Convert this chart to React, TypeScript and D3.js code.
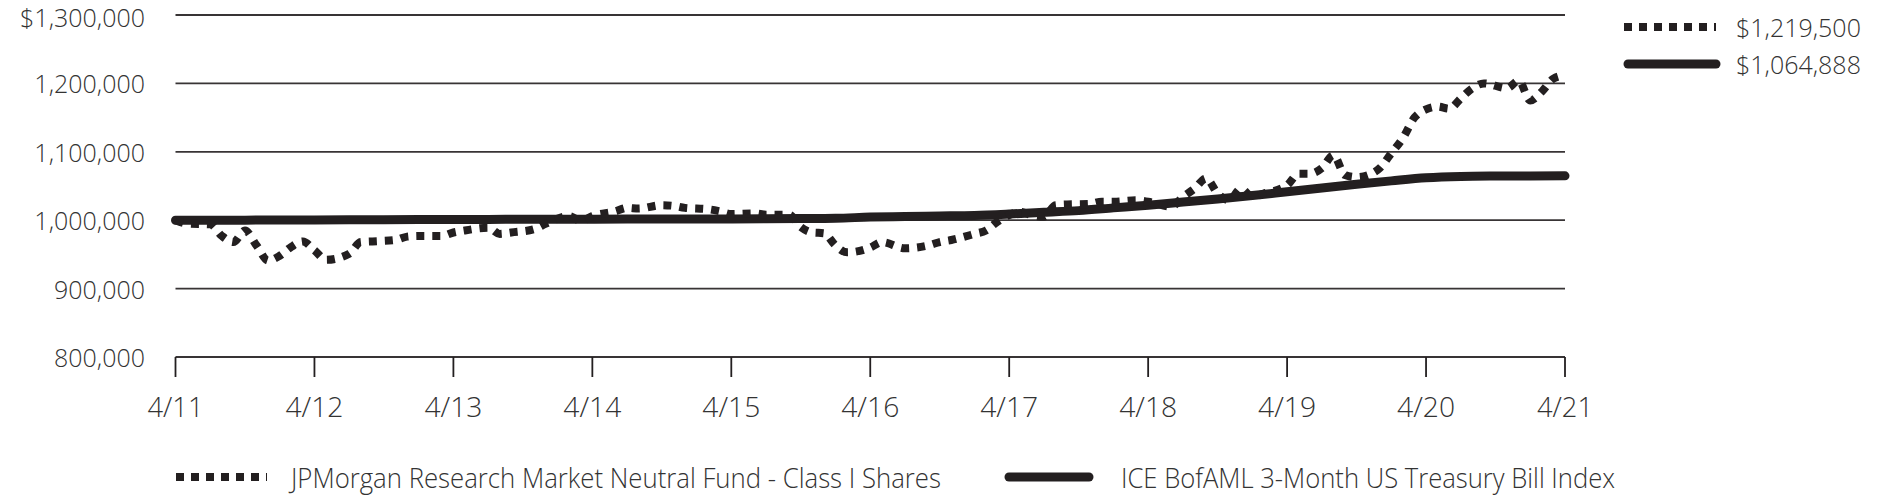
import React from 'react';
import * as d3 from 'd3';

// months counted from 4/11
const tickLabels = ['4/11', '4/12', '4/13', '4/14', '4/15', '4/16', '4/17', '4/18', '4/19', '4/20', '4/21'];
const yTicks = [800000, 900000, 1000000, 1100000, 1200000, 1300000];

const fundMonths = [
  0, 1, 3, 4, 5, 6, 7, 8, 9, 10, 11, 12, 13, 15, 16, 17, 19, 20, 21, 23,
  24, 25, 27, 28, 29, 31, 32, 34, 35, 36, 38, 39, 40, 42, 43, 44, 46, 47, 48, 50,
  51, 53, 54, 55, 56, 57, 58, 60, 61, 63, 65, 66, 67, 69, 70, 71, 73, 74, 75, 76,
  77, 79, 80, 81, 83, 84, 86, 87, 88, 89, 90, 91, 92, 93, 94, 96, 97, 98, 99, 100,
  101, 102, 103, 104, 105, 106, 107, 108, 109, 110, 111, 112, 113, 115, 116, 117, 118, 119, 120,
];
const fundValues = [
  1000000, 995000, 994000, 977000, 968000, 985000, 963000, 941000, 948000, 961000,
  969000, 956000, 942000, 951000, 968000, 969000, 971000, 976000, 977000, 977000,
  982000, 985000, 989000, 980000, 982000, 987000, 995000, 1006000, 999000, 1006000,
  1013000, 1018000, 1017000, 1022000, 1021000, 1018000, 1016000, 1013000, 1009000, 1010000,
  1008000, 1008000, 990000, 982000, 981000, 963000, 953000, 960000, 968000, 959000,
  963000, 968000, 971000, 980000, 985000, 998000, 1012000, 1007000, 1005000, 1022000,
  1023000, 1024000, 1027000, 1027000, 1029000, 1027000, 1020000, 1034000, 1046000, 1061000,
  1039000, 1029000, 1046000, 1034000, 1039000, 1051000, 1068000, 1068000, 1076000, 1095000,
  1066000, 1063000, 1066000, 1076000, 1098000, 1120000, 1150000, 1162000, 1166000, 1163000,
  1178000, 1193000, 1200000, 1193000, 1204000, 1175000, 1188000, 1207000, 1212000,
];

const indexMonths = [
  0, 3, 6, 9, 12, 15, 18, 21, 24, 27, 30, 33, 36, 39, 42, 45, 48, 51, 54, 57,
  60, 63, 66, 69, 72, 75, 78, 81, 84, 87, 90, 93, 96, 99, 102, 105, 108, 111, 114, 117, 120,
];
const indexValues = [
  1000000, 1000000, 1000100, 1000200, 1000300, 1000600, 1000800, 1001000, 1001100, 1001200,
  1001300, 1001400, 1001500, 1001600, 1001700, 1001800, 1001900, 1002100, 1002400, 1002900,
  1004500, 1005500, 1006200, 1007000, 1009000, 1011500, 1014000, 1018000, 1022000, 1026500,
  1031000, 1036000, 1041500, 1047000, 1052500, 1057500, 1062000, 1064000, 1064600, 1064800, 1064888,
];

const seriesNames = ['JPMorgan Research Market Neutral Fund - Class I Shares', 'ICE BofAML 3-Month US Treasury Bill Index'];
const endLabels = ['$1,219,500', '$1,064,888'];

const W = 1880;
const H = 495;
const INK = '#231f20';
const TEXT = '#333333';
const condensed = "'Open Sans', sans-serif";

const x = d3.scaleLinear().domain([0, 120]).range([175.5, 1565]);
const y = d3.scaleLinear().domain([800000, 1300000]).range([357, 15]);

const fundPts: [number, number][] = fundMonths.map((m, i) => [m, fundValues[i]]);
const indexPts: [number, number][] = indexMonths.map((m, i) => [m, indexValues[i]]);

const line = d3
  .line<[number, number]>()
  .x(d => x(d[0]))
  .y(d => y(d[1]))
  .curve(d3.curveMonotoneX);

const fmtY = (v: number, i: number) => (i === yTicks.length - 1 ? '$' : '') + d3.format(',')(v);

export default function App() {
  const xTicks = tickLabels.map((_, i) => i * 12);
  return (
    <svg width={W} height={H} style={{ position: 'absolute', left: 0, top: 0, background: '#fff' }}>
      {/* gridlines */}
      {yTicks.map(v => (
        <line key={v} x1={x(0)} x2={x(120)} y1={y(v)} y2={y(v)} stroke={INK} strokeWidth={1.8} opacity={0.9} />
      ))}
      {/* x ticks */}
      {xTicks.map(m => (
        <line key={m} x1={x(m)} x2={x(m)} y1={y(800000)} y2={y(800000) + 20} stroke={INK} strokeWidth={1.8} />
      ))}
      {xTicks.map((m, i) => (
        <text
          key={'xl' + m}
          x={x(m)}
          y={406}
          textAnchor="middle"
          dominantBaseline="central"
          fontFamily={condensed}
          fontWeight={300}
          fontSize={27}
          fill={TEXT}
          textLength={i === 0 || i === tickLabels.length - 1 ? 56 : 58}
          lengthAdjust="spacingAndGlyphs"
        >
          {tickLabels[i]}
        </text>
      ))}
      {/* y labels */}
      {yTicks.map((v, i) => (
        <text
          key={'yl' + v}
          x={145}
          y={y(v) + (i === yTicks.length - 1 ? 2 : 0)}
          textAnchor="end"
          dominantBaseline="central"
          fontFamily="'Open Sans', sans-serif"
          fontWeight={300}
          fontSize={25}
          fill={TEXT}
        >
          {fmtY(v, i)}
        </text>
      ))}

      {/* series */}
      <path d={line(indexPts) || ''} fill="none" stroke={INK} strokeWidth={9} strokeLinecap="round" strokeLinejoin="round" />
      <path d={line(fundPts) || ''} fill="none" stroke={INK} strokeWidth={8} strokeDasharray="8 8" />

      {/* end value legend */}
      <line x1={1624} x2={1716} y1={27} y2={27} stroke={INK} strokeWidth={8} strokeDasharray="8 7" />
      <line x1={1628} x2={1716} y1={64} y2={64} stroke={INK} strokeWidth={9} strokeLinecap="round" />
      {endLabels.map((t, i) => (
        <text
          key={t}
          x={1736}
          y={i === 0 ? 27 : 64}
          dominantBaseline="central"
          fontFamily="'Open Sans', sans-serif"
          fontWeight={300}
          fontSize={25}
          fill={TEXT}
        >
          {t}
        </text>
      ))}

      {/* bottom legend */}
      <line x1={176} x2={267} y1={477} y2={477} stroke={INK} strokeWidth={8} strokeDasharray="8 7" />
      <text
        x={291}
        y={477}
        dominantBaseline="central"
        fontFamily={condensed}
        fontWeight={300}
        fontSize={27}
        fill={TEXT}
        textLength={650}
        lengthAdjust="spacingAndGlyphs"
      >
        {seriesNames[0]}
      </text>
      <line x1={1009} x2={1089} y1={477} y2={477} stroke={INK} strokeWidth={9} strokeLinecap="round" />
      <text
        x={1121}
        y={477}
        dominantBaseline="central"
        fontFamily={condensed}
        fontWeight={300}
        fontSize={27}
        fill={TEXT}
        textLength={494}
        lengthAdjust="spacingAndGlyphs"
      >
        {seriesNames[1]}
      </text>
    </svg>
  );
}
